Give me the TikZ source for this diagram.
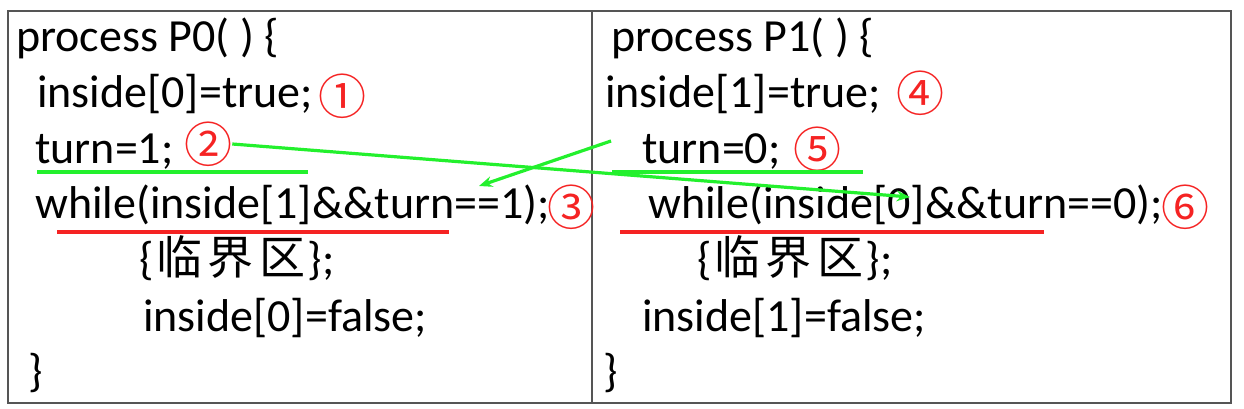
\documentclass[tikz,border=0pt]{standalone}
\usepackage{fontspec}
\setmainfont{Carlito}
\newfontfamily\cjk{Noto Sans CJK SC}
\usetikzlibrary{arrows.meta}
\definecolor{markred}{RGB}{245,35,35}
\definecolor{markgreen}{RGB}{35,240,45}
\definecolor{framegray}{RGB}{85,85,85}
\tikzset{
  code/.style={anchor=base west, inner sep=0pt, font=\fontsize{34.5}{40}\selectfont},
  num/.style={inner sep=0pt, text=markred, font=\cjk\fontsize{36}{40}\selectfont},
  greenline/.style={draw=markgreen, line width=3pt},
  redline/.style={draw=markred, line width=3pt},
  greenarrow/.style={draw=markgreen, line width=2.4pt, -{Stealth[length=10pt,width=8pt]}}
}
\newcommand{\lingjie}{\{\hspace{2pt}{\cjk 临\hspace{4pt}界\hspace{4pt}区}\hspace{2pt}\};}
\begin{document}
\begin{tikzpicture}[x=0.75pt, y=-0.75pt]
\useasboundingbox (0,0) rectangle (1244,409);
% table frame
\draw[framegray, line width=1.1pt] (8,11) rectangle (1231,403);
\draw[framegray, line width=1.1pt] (592,11) -- (592,403);
% process P0
\node[code] (pa0) at (16,52) {process P0( ) \{};
\node[code] (pa1) at (37,108) {inside[0]=true;};
\node[code] (pa2) at (35,164) {turn=1;};
\node[code] (pa3) at (35,219) {while(inside[1]\&\&turn==1);};
\node[code] (pa4) at (139,275) {\lingjie};
\node[code] (pa5) at (143,331) {inside[0]=false;};
\node[code] (pa6) at (28,386) {\}};
% process P1
\node[code] (pb0) at (611,52) {process P1( ) \{};
\node[code] (pb1) at (605,108) {inside[1]=true;};
\node[code] (pb2) at (642,164) {turn=0;};
\node[code] (pb3) at (648,219) {while(inside[0]\&\&turn==0);};
\node[code] (pb4) at (697,275) {\lingjie};
\node[code] (pb5) at (642,331) {inside[1]=false;};
\node[code] (pb6) at (603,386) {\}};
% step numbers
\node[num] (n1) at (342,96) {①};
\node[num] (n2) at (208,144) {②};
\node[num] (n3) at (571,207) {③};
\node[num] (n4) at (920,93) {④};
\node[num] (n5) at (817,149) {⑤};
\node[num] (n6) at (1185,207) {⑥};
% underlines
\draw[greenline] (37,172) -- (308,172);
\draw[greenline] (612,172) -- (863,172);
\draw[redline] (57,232) -- (449,232);
\draw[redline] (620,232) -- (1044,232);
% arrows
\coordinate (t1) at (910,197);
\coordinate (s2) at (611,141);
\coordinate (t2) at (479,186);
\draw[greenarrow] (n2.east) -- (t1);
\draw[greenarrow] (s2) -- (t2);
\end{tikzpicture}
\end{document}
